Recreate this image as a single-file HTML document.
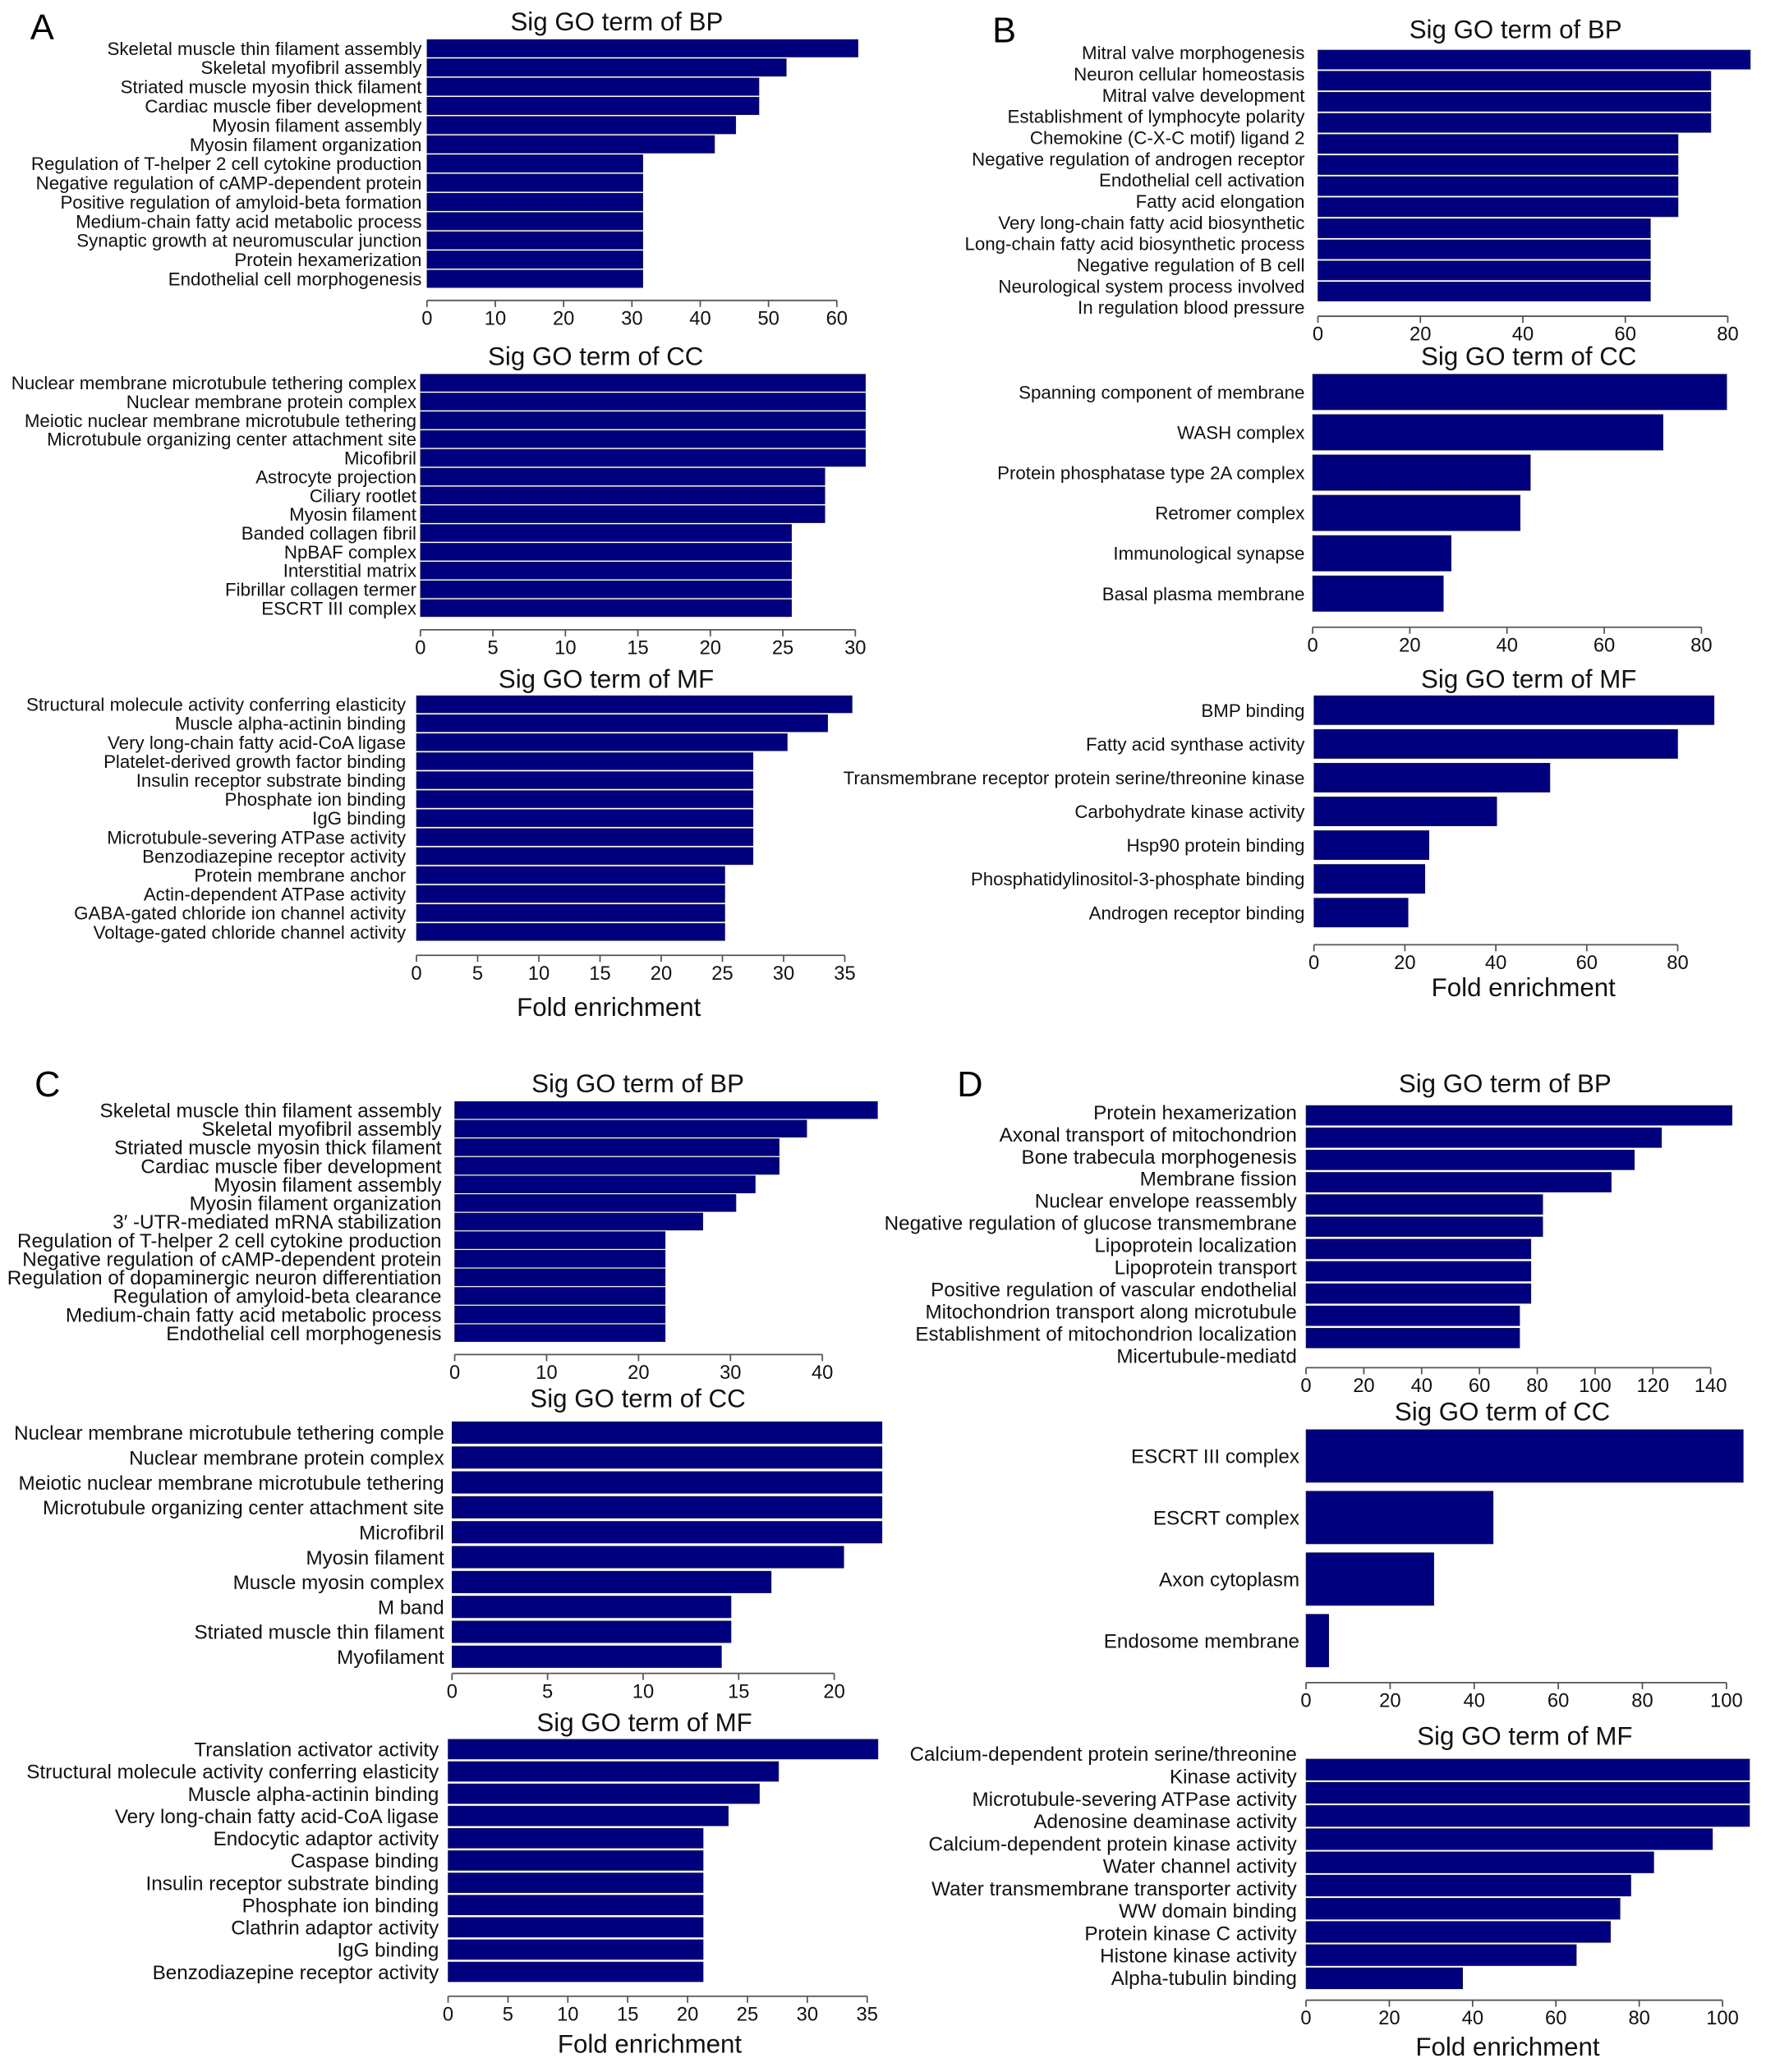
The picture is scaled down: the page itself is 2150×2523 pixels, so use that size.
<!DOCTYPE html>
<html><head><meta charset="utf-8"><style>
html,body{margin:0;padding:0;background:#fff;}
svg{display:block;font-family:"Liberation Sans",Arial,sans-serif;}
</style></head><body>
<svg id="fig" xmlns="http://www.w3.org/2000/svg" width="2150" height="2523" viewBox="0 0 1340 1572.5" preserveAspectRatio="none">
<rect width="1340" height="1572.5" fill="#fff"/>
<text x="32" y="30" font-size="27" text-anchor="middle">A</text>
<text x="762" y="32" font-size="27" text-anchor="middle">B</text>
<text x="36" y="832" font-size="27" text-anchor="middle">C</text>
<text x="736" y="832" font-size="27" text-anchor="middle">D</text>
</svg>
<script>
// ---- data ----
const aBpLabels=["Skeletal muscle thin filament assembly","Skeletal myofibril assembly","Striated muscle myosin thick filament","Cardiac muscle fiber development","Myosin filament assembly","Myosin filament organization","Regulation of T-helper 2 cell cytokine production","Negative regulation of cAMP-dependent protein","Positive regulation of amyloid-beta formation","Medium-chain fatty acid metabolic process","Synaptic growth at neuromuscular junction","Protein hexamerization","Endothelial cell morphogenesis"];
const aBpValues=[63.1,52.6,48.6,48.6,45.2,42.1,31.6,31.6,31.6,31.6,31.6,31.6,31.6];
const aBpTicks=[0,10,20,30,40,50,60];

const aCcLabels=["Nuclear membrane microtubule tethering complex","Nuclear membrane protein complex","Meiotic nuclear membrane microtubule tethering","Microtubule organizing center attachment site","Micofibril","Astrocyte projection","Ciliary rootlet","Myosin filament","Banded collagen fibril","NpBAF complex","Interstitial matrix","Fibrillar collagen termer","ESCRT III complex"];
const aCcValues=[30.7,30.7,30.7,30.7,30.7,27.9,27.9,27.9,25.6,25.6,25.6,25.6,25.6];
const aCcTicks=[0,5,10,15,20,25,30];

const aMfLabels=["Structural molecule activity conferring elasticity","Muscle alpha-actinin binding","Very long-chain fatty acid-CoA ligase","Platelet-derived growth factor binding","Insulin receptor substrate binding","Phosphate ion binding","IgG binding","Microtubule-severing ATPase activity","Benzodiazepine receptor activity","Protein membrane anchor","Actin-dependent ATPase activity","GABA-gated chloride ion channel activity","Voltage-gated chloride channel activity"];
const aMfValues=[35.6,33.6,30.3,27.5,27.5,27.5,27.5,27.5,27.5,25.2,25.2,25.2,25.2];
const aMfTicks=[0,5,10,15,20,25,30,35];

const bBpLabels=["Mitral valve morphogenesis","Neuron cellular homeostasis","Mitral valve development","Establishment of lymphocyte polarity","Chemokine (C-X-C motif) ligand 2","Negative regulation of androgen receptor","Endothelial cell activation","Fatty acid elongation","Very long-chain fatty acid biosynthetic","Long-chain fatty acid biosynthetic process","Negative regulation of B cell","Neurological system process involved","In regulation blood pressure"];
const bBpValues=[84.4,76.7,76.7,76.7,70.3,70.3,70.3,70.3,64.9,64.9,64.9,64.9];
const bBpTicks=[0,20,40,60,80];

const bCcLabels=["Spanning component of membrane","WASH complex","Protein phosphatase type 2A complex","Retromer complex","Immunological synapse","Basal plasma membrane"];
const bCcValues=[85.2,72.1,44.8,42.7,28.5,26.9];
const bCcTicks=[0,20,40,60,80];

const bMfLabels=["BMP binding","Fatty acid synthase activity","Transmembrane receptor protein serine/threonine kinase","Carbohydrate kinase activity","Hsp90 protein binding","Phosphatidylinositol-3-phosphate binding","Androgen receptor binding"];
const bMfValues=[88,80,51.9,40.2,25.3,24.4,20.7];
const bMfTicks=[0,20,40,60,80];

const cBpLabels=["Skeletal muscle thin filament assembly","Skeletal myofibril assembly","Striated muscle myosin thick filament","Cardiac muscle fiber development","Myosin filament assembly","Myosin filament organization","3\u2032 -UTR-mediated mRNA stabilization","Regulation of T-helper 2 cell cytokine production","Negative regulation of cAMP-dependent protein","Regulation of dopaminergic neuron differentiation","Regulation of amyloid-beta clearance","Medium-chain fatty acid metabolic process","Endothelial cell morphogenesis"];
const cBpValues=[46,38.3,35.3,35.3,32.7,30.6,27,22.9,22.9,22.9,22.9,22.9,22.9];
const cBpTicks=[0,10,20,30,40];

const cCcLabels=["Nuclear membrane microtubule tethering comple","Nuclear membrane protein complex","Meiotic nuclear membrane microtubule tethering","Microtubule organizing center attachment site","Microfibril","Myosin filament","Muscle myosin complex","M band","Striated muscle thin filament","Myofilament"];
const cCcValues=[22.5,22.5,22.5,22.5,22.5,20.5,16.7,14.6,14.6,14.1];
const cCcTicks=[0,5,10,15,20];

const cMfLabels=["Translation activator activity","Structural molecule activity conferring elasticity","Muscle alpha-actinin binding","Very long-chain fatty acid-CoA ligase","Endocytic adaptor activity","Caspase binding","Insulin receptor substrate binding","Phosphate ion binding","Clathrin adaptor activity","IgG binding","Benzodiazepine receptor activity"];
const cMfValues=[35.9,27.6,26,23.4,21.3,21.3,21.3,21.3,21.3,21.3,21.3];
const cMfTicks=[0,5,10,15,20,25,30,35];

const dBpLabels=["Protein hexamerization","Axonal transport of mitochondrion","Bone trabecula morphogenesis","Membrane fission","Nuclear envelope reassembly","Negative regulation of glucose transmembrane","Lipoprotein localization","Lipoprotein transport","Positive regulation of vascular endothelial","Mitochondrion transport along microtubule","Establishment of mitochondrion localization","Micertubule-mediatd"];
const dBpValues=[147.4,123,113.6,105.6,81.9,81.9,77.8,77.8,77.8,73.9,73.9];
const dBpTicks=[0,20,40,60,80,100,120,140];

const dCcLabels=["ESCRT III complex","ESCRT complex","Axon cytoplasm","Endosome membrane"];
const dCcValues=[104,44.5,30.4,5.4];
const dCcTicks=[0,20,40,60,80,100];

const dMfLabels=["Calcium-dependent protein serine/threonine","Kinase activity","Microtubule-severing ATPase activity","Adenosine deaminase activity","Calcium-dependent protein kinase activity","Water channel activity","Water transmembrane transporter activity","WW domain binding","Protein kinase C activity","Histone kinase activity","Alpha-tubulin binding"];
const dMfValues=[106.5,106.5,106.5,97.6,83.5,78,75.4,73.1,64.9,37.6];
const dMfTicks=[0,20,40,60,80,100];

// ---- layout ----
const NS="http://www.w3.org/2000/svg";
const svg=document.getElementById('fig');
function mk(tag,attrs,parent){const e=document.createElementNS(NS,tag);for(const k in attrs)e.setAttribute(k,attrs[k]);(parent||svg).appendChild(e);return e;}

function chart(id,title,labels,values,ticks,L){
  const g=mk('g',{});
  
  
  const xs=v=>L.x0+v*L.unit;
  const t=mk('text',{x:L.tx,y:L.ty+1,'font-size':19.5,'text-anchor':'middle',fill:'#111'},g);
  t.textContent=title;
  
  
  values.forEach((v,i)=>{
    const r=mk('rect',{x:xs(0),y:L.barTop+1+i*L.pitch,width:xs(v)-xs(0),height:L.barH,fill:'#00007f',stroke:'#1a1a4a','stroke-width':0.4},g);
    
    
  });
  const lf=L.labFirst!==undefined?L.labFirst:L.barTop+L.barH/2;
  const lp=L.labPitch||L.pitch;
  const fs=L.fs||14;
  labels.forEach((s,i)=>{
    const tx=mk('text',{x:L.labR,y:lf+1+i*lp+fs*0.36,'font-size':fs,'text-anchor':'end',fill:'#111'},g);
    tx.textContent=s;
    
    
  });
  mk('line',{x1:xs(ticks[0]),x2:xs(ticks[ticks.length-1]),y1:L.ay,y2:L.ay,stroke:'#555','stroke-width':1.1},g);
  ticks.forEach(tv=>{
    mk('line',{x1:xs(tv),x2:xs(tv),y1:L.ay,y2:L.ay+5,stroke:'#555','stroke-width':1.1},g);
    const tl=mk('text',{x:xs(tv),y:L.ay+18.5,'font-size':14.8,'text-anchor':'middle',fill:'#111'},g);
    tl.textContent=tv;
    
    
  });
  if(L.xl){
    const xl=mk('text',{x:L.xl[0],y:L.xl[1]+1,'font-size':19.5,'text-anchor':'middle',fill:'#111'},g);
    xl.textContent='Fold enrichment';
    
    
  }
}

chart('a-bp','Sig GO term of BP',aBpLabels,aBpValues,aBpTicks,{x0:324,unit:5.183,ay:228,barTop:29,pitch:14.58,barH:13.3,labR:320,tx:468,ty:22,fs:13.9});
chart('a-cc','Sig GO term of CC',aCcLabels,aCcValues,aCcTicks,{x0:319,unit:11,ay:478,barTop:283,pitch:14.25,barH:13,labR:316,tx:452,ty:276,fs:13.9});
chart('a-mf','Sig GO term of MF',aMfLabels,aMfValues,aMfTicks,{x0:316,unit:9.286,ay:725,barTop:527,pitch:14.4,barH:13,labR:308,tx:460,ty:521,xl:[462,770],fs:13.9});
chart('b-bp','Sig GO term of BP',bBpLabels,bBpValues,bBpTicks,{x0:1000,unit:3.8875,ay:240,barTop:37,pitch:16,barH:14.5,labFirst:39,labPitch:16.1,labR:990,tx:1150,ty:28,fs:13.9});
chart('b-cc','Sig GO term of CC',bCcLabels,bCcValues,bCcTicks,{x0:996,unit:3.6875,ay:476,barTop:283,pitch:30.6,barH:27,labR:990,tx:1160,ty:276,fs:13.9});
chart('b-mf','Sig GO term of MF',bMfLabels,bMfValues,bMfTicks,{x0:997,unit:3.45,ay:717,barTop:527,pitch:25.6,barH:22,labR:990,tx:1160,ty:521,xl:[1156,755],fs:13.9});
chart('c-bp','Sig GO term of BP',cBpLabels,cBpValues,cBpTicks,{x0:345,unit:6.975,ay:1028,barTop:835,pitch:14.1,barH:13,labR:335,tx:484,ty:828,fs:15.1});
chart('c-cc','Sig GO term of CC',cCcLabels,cCcValues,cCcTicks,{x0:343,unit:14.5,ay:1270,barTop:1078,pitch:18.9,barH:16.5,labR:337,tx:484,ty:1067,fs:15.1});
chart('c-mf','Sig GO term of MF',cMfLabels,cMfValues,cMfTicks,{x0:340,unit:9.086,ay:1515,barTop:1319,pitch:16.9,barH:15,labR:333,tx:489,ty:1313,xl:[493,1557],fs:15.1});
chart('d-bp','Sig GO term of BP',dBpLabels,dBpValues,dBpTicks,{x0:991,unit:2.193,ay:1038,barTop:838,pitch:16.9,barH:15,labFirst:843,labPitch:16.8,labR:984,tx:1142,ty:828,fs:15.1});
chart('d-cc','Sig GO term of CC',dCcLabels,dCcValues,dCcTicks,{x0:991,unit:3.19,ay:1277,barTop:1084,pitch:46.7,barH:40,labR:986,tx:1140,ty:1077,fs:15.1});
chart('d-mf','Sig GO term of MF',dMfLabels,dMfValues,dMfTicks,{x0:991,unit:3.16,ay:1518,barTop:1334,pitch:17.6,barH:16,labFirst:1330,labPitch:17,labR:984,tx:1157,ty:1323,xl:[1144,1559],fs:15.1});
</script>
</body></html>
